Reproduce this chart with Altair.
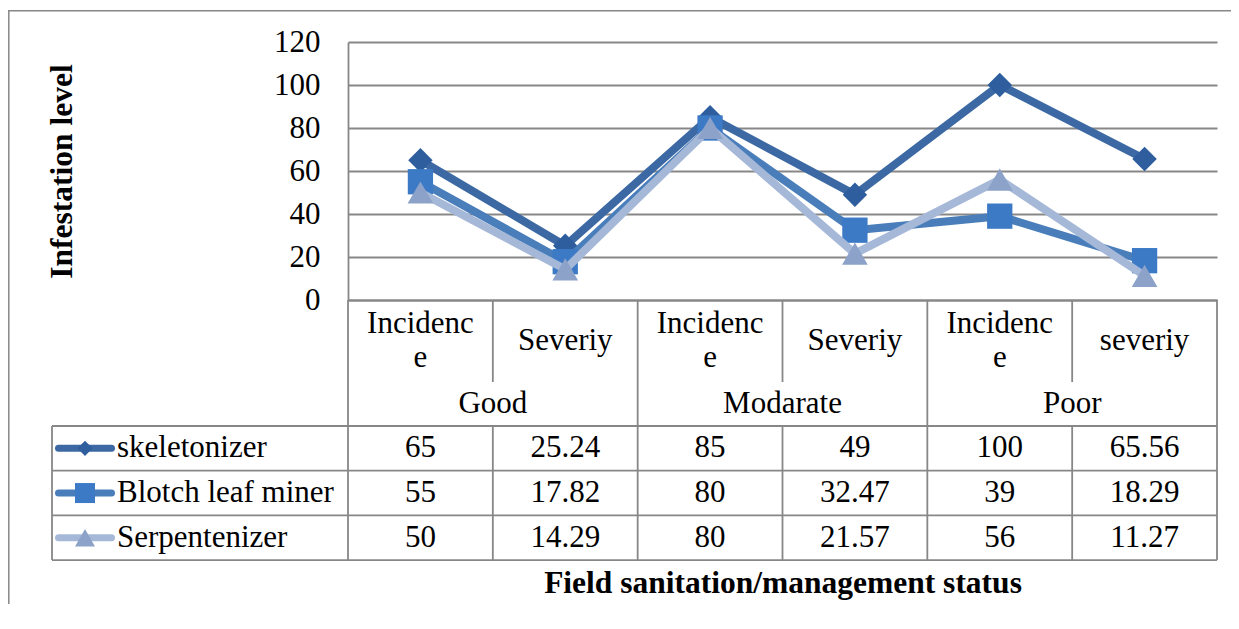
import altair as alt
import pandas as pd

# ---------------- data ----------------
categories = ["Incidence", "Severiy", "Incidence", "Severiy", "Incidence", "severiy"]
groups = ["Good", "Modarate", "Poor"]
series_names = ["skeletonizer", "Blotch leaf miner", "Serpentenizer"]
skeletonizer = [65, 25.24, 85, 49, 100, 65.56]
blotch_leaf_miner = [55, 17.82, 80, 32.47, 39, 18.29]
serpentenizer = [50, 14.29, 80, 21.57, 56, 11.27]
y_ticks = [0, 20, 40, 60, 80, 100, 120]
series_values = [skeletonizer, blotch_leaf_miner, serpentenizer]

# ---------------- styles / layout ----------------
LINE_COLORS = ["#3C69A3", "#4A7EBB", "#A5B8D8"]
MARK_COLORS = ["#2E5E9E", "#3C7AC6", "#8DA2C8"]
SHAPES = ["diamond", "square", "triangle-up"]
MARK_SIZES = [600, 640, 660]
LEGEND_SIZES = [230, 400, 400]
GRAY = "#878787"
FONT = "Liberation Serif"
FS = 31
FS_TITLE = 31.5
LINE_H = 34

W, H = 869, 258
N = len(categories)
YMAX = 120
PX_X = W / N
PX_Y = H / YMAX


def xcol(px):
    return px / PX_X


def ydown(px):
    return -px / PX_Y


LEG_LEFT = -296
CAT_BOTTOM = 82
GROUP_BOTTOM = 126
ROW_H = 44.7
TABLE_BOTTOM = GROUP_BOTTOM + ROW_H * len(series_names)

xscale = alt.Scale(domain=[0, N], nice=False, zero=False)
yscale = alt.Scale(domain=[0, YMAX], nice=False, zero=False)
x_axis = alt.Axis(labels=False, ticks=False, grid=False, domain=True,
                  domainColor=GRAY, domainWidth=1.8,
                  title="Field sanitation/management status",
                  titleFont=FONT, titleFontSize=FS_TITLE, titleFontWeight="bold",
                  titleColor="black", titleX=W / 2, titleY=283, titleBaseline="middle")
y_axis = alt.Axis(values=y_ticks, grid=True, gridColor=GRAY, gridWidth=1.8,
                  ticks=False, tickSize=0, labelPadding=28, labelFont=FONT,
                  labelFontSize=FS, labelColor="black", domain=True,
                  domainColor=GRAY, domainWidth=1.8,
                  title="Infestation level", titleFont=FONT, titleFontSize=FS_TITLE,
                  titleFontWeight="bold", titleColor="black", titleAngle=270,
                  titleX=-286, titleY=H / 2, titleBaseline="middle")


def X(f="x"):
    return alt.X(f"{f}:Q", scale=xscale, axis=x_axis)


def Y(f="y"):
    return alt.Y(f"{f}:Q", scale=yscale, axis=y_axis)


layers = []

# frame around the chart area
frame = alt.Chart(pd.DataFrame({"a": [0]})).mark_rect(
    fillOpacity=0, stroke=GRAY, strokeWidth=1.5
).encode(x=alt.value(-339.2), x2=alt.value(W + 120),
         y=alt.value(-31.3), y2=alt.value(H + 400))
layers.append(frame)

# table grid lines
rules = []
for b in range(N + 1):
    if b % 2 == 0:
        rules.append((b, b, 0, ydown(TABLE_BOTTOM)))
    else:
        rules.append((b, b, 0, ydown(CAT_BOTTOM)))
        rules.append((b, b, ydown(GROUP_BOTTOM), ydown(TABLE_BOTTOM)))
rules.append((xcol(LEG_LEFT), xcol(LEG_LEFT), ydown(GROUP_BOTTOM), ydown(TABLE_BOTTOM)))
for r in range(len(series_names) + 1):
    yy = ydown(GROUP_BOTTOM + ROW_H * r)
    rules.append((xcol(LEG_LEFT), N, yy, yy))
rules_df = pd.DataFrame(rules, columns=["x", "x2", "y", "y2"])
layers.append(alt.Chart(rules_df).mark_rule(color=GRAY, strokeWidth=1.8).encode(
    x=X(), x2="x2:Q", y=Y(), y2="y2:Q"))

# series lines and markers
for k, name in enumerate(series_names):
    df = pd.DataFrame({"x": [i + 0.5 for i in range(N)], "y": series_values[k],
                       "cat": categories})
    layers.append(alt.Chart(df).mark_line(color=LINE_COLORS[k], strokeWidth=8,
                                          strokeJoin="round").encode(x=X(), y=Y()))
    layers.append(alt.Chart(df).mark_point(shape=SHAPES[k], filled=True, opacity=1,
                                           color=MARK_COLORS[k], size=MARK_SIZES[k],
                                           strokeWidth=0).encode(x=X(), y=Y()))


def wrap(s, n=8):
    return s if len(s) <= n else s[:n] + "\n" + s[n:]


text_kw = dict(font=FONT, fontSize=FS, color="black", baseline="middle",
               lineBreak="\n", lineHeight=LINE_H)

cat_labels = [wrap(c) for c in categories]
cat_df = pd.DataFrame({
    "x": [i + 0.5 for i in range(N)],
    "y": [ydown(CAT_BOTTOM / 2 - LINE_H / 2 * (lab.count("\n"))) for lab in cat_labels],
    "label": cat_labels})
layers.append(alt.Chart(cat_df).mark_text(align="center", **text_kw).encode(
    x=X(), y=Y(), text="label:N"))

grp_df = pd.DataFrame({"x": [2 * g + 1 for g in range(len(groups))],
                       "y": ydown((CAT_BOTTOM + GROUP_BOTTOM) / 2), "label": groups})
layers.append(alt.Chart(grp_df).mark_text(align="center", **text_kw).encode(
    x=X(), y=Y(), text="label:N"))

cells = []
for k, name in enumerate(series_names):
    yy = ydown(GROUP_BOTTOM + ROW_H * (k + 0.5))
    for i, v in enumerate(series_values[k]):
        cells.append((i + 0.5, yy, f"{v:g}"))
cell_df = pd.DataFrame(cells, columns=["x", "y", "label"])
layers.append(alt.Chart(cell_df).mark_text(align="center", **text_kw).encode(
    x=X(), y=Y(), text="label:N"))

# legend keys inside the table
for k, name in enumerate(series_names):
    yy = ydown(GROUP_BOTTOM + ROW_H * (k + 0.5))
    ldf = pd.DataFrame({"x": [xcol(-289.5)], "x2": [xcol(-236.5)], "y": [yy]})
    layers.append(alt.Chart(ldf).mark_rule(color=LINE_COLORS[k], strokeWidth=7,
                                           strokeCap="round").encode(
        x=X(), x2="x2:Q", y=Y()))
    mdf = pd.DataFrame({"x": [xcol(-263)], "y": [yy]})
    layers.append(alt.Chart(mdf).mark_point(shape=SHAPES[k], filled=True, opacity=1,
                                            color=MARK_COLORS[k], size=LEGEND_SIZES[k],
                                            strokeWidth=0).encode(x=X(), y=Y()))
    tdf = pd.DataFrame({"x": [xcol(-231)], "y": [yy], "label": [name]})
    layers.append(alt.Chart(tdf).mark_text(align="left", **text_kw).encode(
        x=X(), y=Y(), text="label:N"))

chart = alt.layer(*layers).properties(
    width=W, height=H,
    autosize=alt.AutoSizeParams(type="none"),
    padding={"left": 340, "top": 34, "right": 14, "bottom": 304},
).configure_view(stroke=None)

chart.save("out.html", embed_options={"renderer": "svg", "actions": False})
